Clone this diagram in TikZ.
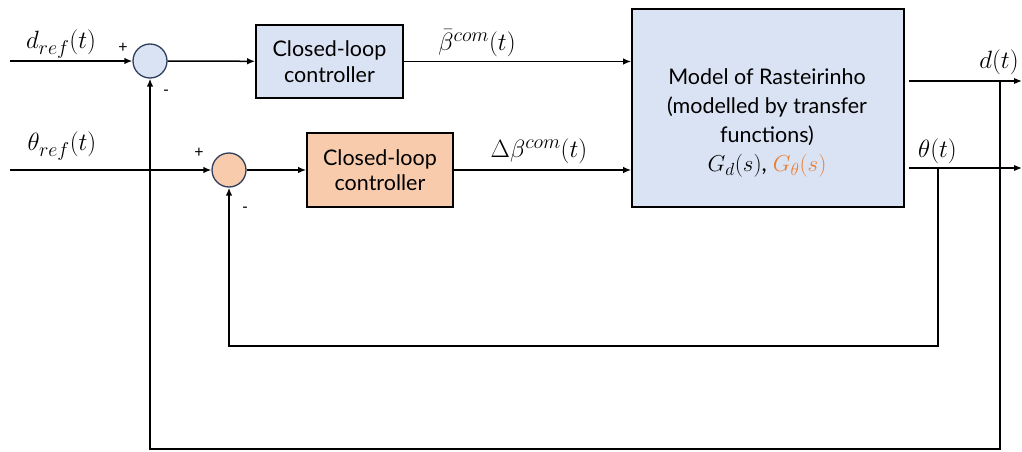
\RequirePackage{fix-cm}
\documentclass[tikz,border=0pt]{standalone}
\usepackage{fontspec}
\setmainfont{Lato}
\usetikzlibrary{arrows.meta}
\definecolor{blockblue}{HTML}{DAE3F3}
\definecolor{blockpeach}{HTML}{F8CBAD}
\definecolor{sumedge}{HTML}{2F3E5C}
\definecolor{accent}{HTML}{ED7D31}
\DeclareMathSizes{23}{23}{17.5}{13}
\DeclareMathSizes{25}{25}{20}{14}
\begin{document}
\begin{tikzpicture}[x=1pt,y=-1pt,
  wire/.style={line width=1.5pt,draw=black},
  arr/.style={wire,-{Latex[length=8pt,width=6.5pt]}},
  block/.style={draw=black,line width=1.7pt,inner sep=0pt,font=\fontsize{21.5}{25.5}\selectfont,align=center},
  sumnode/.style={circle,draw=sumedge,line width=1.3pt,minimum size=34pt,inner sep=0pt},
  lbl/.style={font=\fontsize{25}{28}\selectfont,inner sep=0pt},
  sgn/.style={font=\fontsize{16}{18}\selectfont,inner sep=0pt}]
\useasboundingbox (0,0) rectangle (1022,452);

% summing junctions
\node[sumnode,fill=blockblue] (s1) at (150,61) {};
\node[sumnode,fill=blockpeach] (s2) at (229,170) {};

% controllers and plant
\node[block,fill=blockblue,minimum width=147pt,minimum height=73pt] (c1) at (329.5,61.5) {Closed-loop\\controller};
\node[block,fill=blockpeach,minimum width=146pt,minimum height=74pt] (c2) at (380,170) {Closed-loop\\controller};
\node[block,fill=blockblue,minimum width=272pt,minimum height=198pt] (model) at (768,108) {};
\node[font=\fontsize{21.5}{29}\selectfont,align=center,inner sep=0pt] (mtxt) at (767,123)
  {Model of Rasteirinho\\(modelled by transfer\\functions)\\\fontsize{23}{27}\selectfont$G_d(s)$, {\color{accent}$G_\theta(s)$}};

% signal end points
\coordinate (inD) at (10,61);
\coordinate (inT) at (10,170);
\coordinate (oD) at (909,81);
\coordinate (oT) at (909,168);
\coordinate (endD) at (1022,81);
\coordinate (endT) at (1022,168);
\coordinate (tapD) at (1000,81);
\coordinate (tapT) at (938,168);

% forward paths
\draw[arr] (inD) -- (s1);
\draw[arr] (s1) -- (c1);
\draw[arr] (c1.east) -- (c1.east -| model.west);
\draw[arr] (inT) -- (s2);
\draw[arr] (s2) -- (c2);
\draw[arr] (c2.east) -- (c2.east -| model.west);
\draw[arr] (oD) -- (endD);
\draw[arr] (oT) -- (endT);

% feedback paths
\draw[arr] (tapD) -- (1000,449) -| (s1);
\draw[arr] (tapT) -- (938,346) -| (s2);

% signal labels
\node[lbl] (ldr) at (61,44) {$d_{ref}(t)$};
\node[lbl] (ltr) at (62,146) {$\theta_{ref}(t)$};
\node[lbl] (lb1) at (477,43) {$\bar{\beta}^{com}(t)$};
\node[lbl] (lb2) at (539,151) {$\Delta\beta^{com}(t)$};
\node[lbl] (ld) at (999,62) {$d(t)$};
\node[lbl] (lt) at (937.5,151) {$\theta(t)$};

% signs
\node[sgn] (p1) at (123,48) {+};
\node[sgn] (m1) at (166,93) {-};
\node[sgn] (p2) at (199,153) {+};
\node[sgn] (m2) at (245,210) {-};
\end{tikzpicture}
\end{document}
